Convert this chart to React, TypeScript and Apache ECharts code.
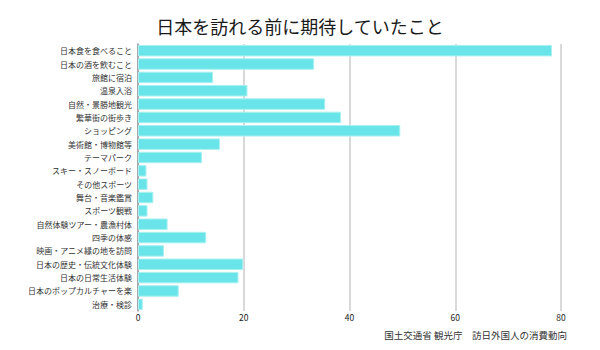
import React, { useEffect, useRef } from "react";
import * as echarts from "echarts";

const categories = [
  "日本食を食べること",
  "日本の酒を飲むこと",
  "旅館に宿泊",
  "温泉入浴",
  "自然・景勝地観光",
  "繁華街の街歩き",
  "ショッピング",
  "美術館・博物館等",
  "テーマパーク",
  "スキー・スノーボード",
  "その他スポーツ",
  "舞台・音楽鑑賞",
  "スポーツ観戦",
  "自然体験ツアー・農漁村体",
  "四季の体感",
  "映画・アニメ縁の地を訪問",
  "日本の歴史・伝統文化体験",
  "日本の日常生活体験",
  "日本のポップカルチャーを楽",
  "治療・検診",
];

const values = [
  78.3, 33.3, 14.2, 20.7, 35.4, 38.4, 49.6, 15.5, 12.1, 1.6,
  1.8, 2.9, 1.8, 5.6, 12.9, 4.9, 19.9, 19.0, 7.7, 0.9,
];

const titleText = "日本を訪れる前に期待していたこと";
const sourceText = "国土交通省 観光庁　訪日外国人の消費動向";

export default function App() {
  const ref = useRef<HTMLDivElement>(null);
  useEffect(() => {
    if (!ref.current) return;
    const chart = echarts.init(ref.current, null, { renderer: "svg" });
    chart.setOption({
      animation: false,
      backgroundColor: "#ffffff",
      title: {
        text: titleText,
        left: "center",
        top: 12,
        textStyle: {
          fontFamily: "Noto Sans CJK JP",
          fontSize: 18,
          fontWeight: "normal",
          color: "#1a1a1a",
        },
      },
      graphic: [
        {
          type: "text",
          right: 33,
          top: 330,
          style: {
            text: sourceText,
            fontFamily: "Noto Sans CJK JP",
            fontSize: 9.5,
            fill: "#333",
          },
        },
      ],
      grid: { left: 138, right: 39, top: 44, bottom: 39 },
      xAxis: {
        type: "value",
        min: 0,
        max: 80,
        interval: 20,
        axisLine: { show: false },
        axisTick: { show: false },
        axisLabel: {
          fontFamily: "Noto Sans CJK JP",
          fontSize: 8.5,
          color: "#222",
          margin: 2,
        },
        splitLine: { show: true, lineStyle: { color: "#cccccc", width: 1.5 } },
      },
      yAxis: {
        type: "category",
        data: categories,
        inverse: true,
        axisLine: { show: true, lineStyle: { color: "#999999", width: 1.5 } },
        axisTick: { show: false },
        axisLabel: {
          fontFamily: "Noto Sans CJK JP",
          fontSize: 8,
          color: "#333",
          margin: 6,
        },
      },
      series: [
        {
          type: "bar",
          data: values,
          barCategoryGap: "14%",
          itemStyle: {
            color: "#69e4e9",
            borderColor: "#a8f0f2",
            borderWidth: 1,
          },
        },
      ],
    });
    return () => chart.dispose();
  }, []);
  return <div ref={ref} style={{ width: 600, height: 350, margin: -8 }} />;
}
